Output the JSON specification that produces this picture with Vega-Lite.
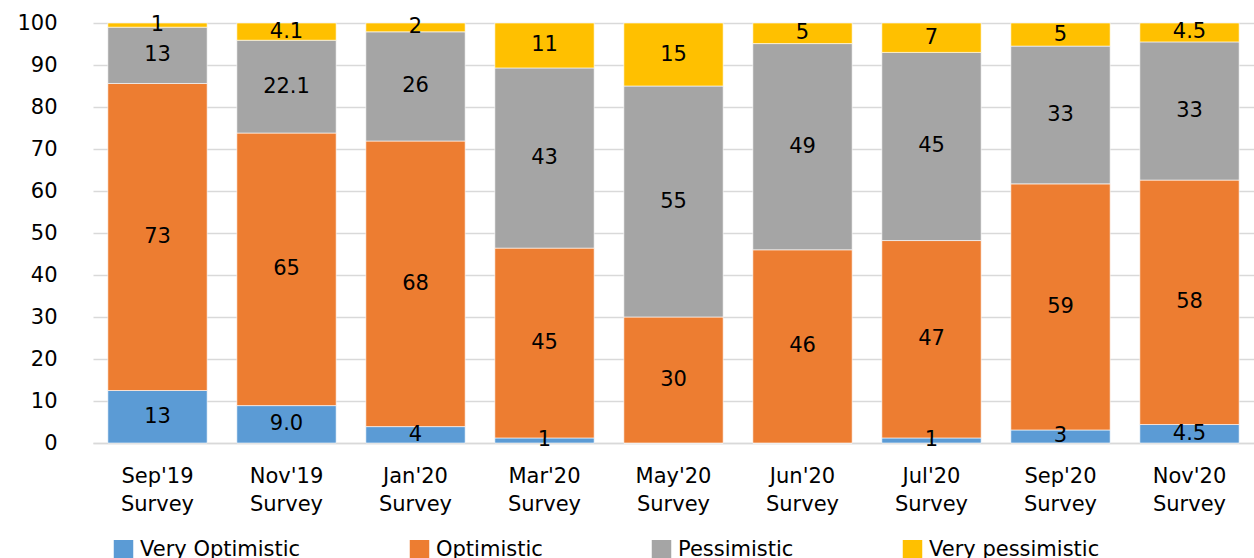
{
  "$schema": "https://vega.github.io/schema/vega-lite/v6.json",
  "width": 1161,
  "height": 420,
  "autosize": {"type": "none"},
  "padding": {"left": 93, "top": 23, "right": 0, "bottom": 115},
  "background": "white",
  "config": {
    "font": "DejaVu Sans",
    "view": {"stroke": null},
    "axis": {"labelFont": "DejaVu Sans", "labelFontSize": 21, "labelColor": "#000000"},
    "legend": {"labelFont": "DejaVu Sans", "labelFontSize": 21, "labelColor": "#000000"}
  },
  "data": {
    "values": [
      {"survey": "Sep'19 Survey", "sentiment": "Very Optimistic", "value": 12.5, "label": "13"},
      {"survey": "Sep'19 Survey", "sentiment": "Optimistic", "value": 73.1, "label": "73"},
      {"survey": "Sep'19 Survey", "sentiment": "Pessimistic", "value": 13.4, "label": "13"},
      {"survey": "Sep'19 Survey", "sentiment": "Very pessimistic", "value": 1.0, "label": "1"},
      {"survey": "Nov'19 Survey", "sentiment": "Very Optimistic", "value": 8.9, "label": "9.0"},
      {"survey": "Nov'19 Survey", "sentiment": "Optimistic", "value": 64.9, "label": "65"},
      {"survey": "Nov'19 Survey", "sentiment": "Pessimistic", "value": 22.1, "label": "22.1"},
      {"survey": "Nov'19 Survey", "sentiment": "Very pessimistic", "value": 4.1, "label": "4.1"},
      {"survey": "Jan'20 Survey", "sentiment": "Very Optimistic", "value": 3.9, "label": "4"},
      {"survey": "Jan'20 Survey", "sentiment": "Optimistic", "value": 68.0, "label": "68"},
      {"survey": "Jan'20 Survey", "sentiment": "Pessimistic", "value": 26.0, "label": "26"},
      {"survey": "Jan'20 Survey", "sentiment": "Very pessimistic", "value": 2.1, "label": "2"},
      {"survey": "Mar'20 Survey", "sentiment": "Very Optimistic", "value": 1.2, "label": "1"},
      {"survey": "Mar'20 Survey", "sentiment": "Optimistic", "value": 45.2, "label": "45"},
      {"survey": "Mar'20 Survey", "sentiment": "Pessimistic", "value": 42.9, "label": "43"},
      {"survey": "Mar'20 Survey", "sentiment": "Very pessimistic", "value": 10.7, "label": "11"},
      {"survey": "May'20 Survey", "sentiment": "Very Optimistic", "value": 0, "label": ""},
      {"survey": "May'20 Survey", "sentiment": "Optimistic", "value": 30.0, "label": "30"},
      {"survey": "May'20 Survey", "sentiment": "Pessimistic", "value": 55.0, "label": "55"},
      {"survey": "May'20 Survey", "sentiment": "Very pessimistic", "value": 15.0, "label": "15"},
      {"survey": "Jun'20 Survey", "sentiment": "Very Optimistic", "value": 0, "label": ""},
      {"survey": "Jun'20 Survey", "sentiment": "Optimistic", "value": 46.0, "label": "46"},
      {"survey": "Jun'20 Survey", "sentiment": "Pessimistic", "value": 49.1, "label": "49"},
      {"survey": "Jun'20 Survey", "sentiment": "Very pessimistic", "value": 4.9, "label": "5"},
      {"survey": "Jul'20 Survey", "sentiment": "Very Optimistic", "value": 1.2, "label": "1"},
      {"survey": "Jul'20 Survey", "sentiment": "Optimistic", "value": 47.0, "label": "47"},
      {"survey": "Jul'20 Survey", "sentiment": "Pessimistic", "value": 44.8, "label": "45"},
      {"survey": "Jul'20 Survey", "sentiment": "Very pessimistic", "value": 7.0, "label": "7"},
      {"survey": "Sep'20 Survey", "sentiment": "Very Optimistic", "value": 3.1, "label": "3"},
      {"survey": "Sep'20 Survey", "sentiment": "Optimistic", "value": 58.6, "label": "59"},
      {"survey": "Sep'20 Survey", "sentiment": "Pessimistic", "value": 32.8, "label": "33"},
      {"survey": "Sep'20 Survey", "sentiment": "Very pessimistic", "value": 5.5, "label": "5"},
      {"survey": "Nov'20 Survey", "sentiment": "Very Optimistic", "value": 4.4, "label": "4.5"},
      {"survey": "Nov'20 Survey", "sentiment": "Optimistic", "value": 58.2, "label": "58"},
      {"survey": "Nov'20 Survey", "sentiment": "Pessimistic", "value": 32.9, "label": "33"},
      {"survey": "Nov'20 Survey", "sentiment": "Very pessimistic", "value": 4.5, "label": "4.5"}
    ]
  },
  "transform": [
    {"calculate": "indexof(['Very Optimistic','Optimistic','Pessimistic','Very pessimistic'], datum.sentiment)", "as": "rank"},
    {"stack": "value", "groupby": ["survey"], "sort": [{"field": "rank", "order": "ascending"}], "as": ["y0", "y1"]},
    {"calculate": "(datum.y0 + datum.y1) / 2", "as": "ymid"}
  ],
  "encoding": {
    "x": {
      "field": "survey",
      "type": "nominal",
      "sort": null,
      "title": null,
      "scale": {"paddingInner": 0.23, "paddingOuter": 0.115},
      "axis": {
        "labelAngle": 0,
        "labelExpr": "split(datum.label, ' ')",
        "labelLineHeight": 28,
        "labelPadding": 22,
        "ticks": false,
        "domainColor": "#D9D9D9",
        "domainWidth": 1.5,
        "labelBaseline": "top"
      }
    }
  },
  "layer": [
    {
      "mark": {"type": "bar", "stroke": "#ffffff", "strokeWidth": 0.6},
      "encoding": {
        "y": {
          "field": "y0",
          "type": "quantitative",
          "title": null,
          "scale": {"domain": [0, 100]},
          "axis": {
            "values": [0, 10, 20, 30, 40, 50, 60, 70, 80, 90, 100],
            "ticks": false,
            "domain": false,
            "labelPadding": 36,
            "gridColor": "#D9D9D9",
            "gridWidth": 1.5
          }
        },
        "y2": {"field": "y1"},
        "color": {
          "field": "sentiment",
          "type": "nominal",
          "scale": {
            "domain": ["Very Optimistic", "Optimistic", "Pessimistic", "Very pessimistic"],
            "range": ["#5B9BD5", "#ED7D31", "#A5A5A5", "#FFC000"]
          },
          "legend": {
            "title": null,
            "orient": "bottom",
            "direction": "horizontal",
            "symbolType": "square",
            "symbolSize": 380,
            "symbolStrokeWidth": 0,
            "columnPadding": 108,
            "labelOffset": 6,
            "offset": 5,
            "padding": 20,
            "labelLimit": 400
          }
        }
      }
    },
    {
      "mark": {"type": "text", "fontSize": 21, "color": "#000000", "baseline": "middle", "align": "center"},
      "encoding": {
        "y": {"field": "ymid", "type": "quantitative"},
        "text": {"field": "label", "type": "nominal"}
      }
    }
  ]
}
